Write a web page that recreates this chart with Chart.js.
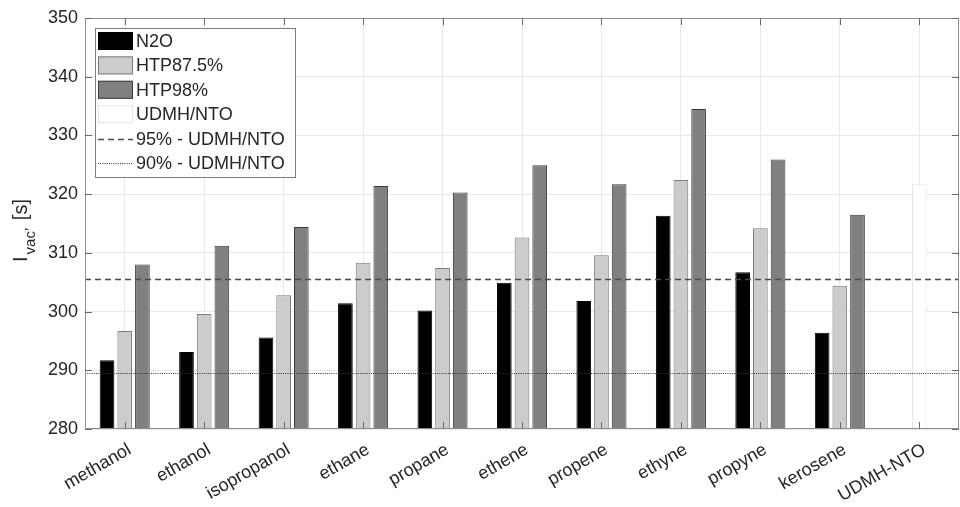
<!DOCTYPE html>
<html>
<head>
<meta charset="utf-8">
<script src="https://cdn.jsdelivr.net/npm/chart.js@4/dist/chart.umd.min.js"></script>
<style>
  html, body { margin: 0; padding: 0; background: #fff; }
  #wrap { width: 960px; height: 507px; position: relative; }
</style>
</head>
<body>
<div id="wrap"><canvas id="c"></canvas></div>
<script>
// Vacuum specific impulse by fuel and oxidiser
const categories = ['methanol', 'ethanol', 'isopropanol', 'ethane', 'propane', 'ethene',
                    'propene', 'ethyne', 'propyne', 'kerosene', 'UDMH-NTO'];
const n2oValues    = [291.7, 293.1, 295.6, 301.4, 300.2, 304.9, 301.8, 316.3, 306.7, 296.4, null];
const htp875Values = [296.7, 299.6, 302.8, 308.3, 307.4, 312.6, 309.6, 322.4, 314.2, 304.4, null];
const htp98Values  = [308.0, 311.2, 314.4, 321.4, 320.3, 324.9, 321.7, 334.5, 325.9, 316.5, null];
const udmhNtoValues = [null, null, null, null, null, null, null, null, null, null, 321.7];
const udmhNtoReference = 321.7;
const referenceFractions = [0.95, 0.90];
const referenceLabels = ['95% - UDMH/NTO', '90% - UDMH/NTO'];
const yMin = 280, yMax = 350, yStep = 10;

const FONT = '"Liberation Sans", Arial, Helvetica, sans-serif';
const TEXT = '#262626';

const barCommon = { borderWidth: 1, borderSkipped: false, skipNull: true,
                    categoryPercentage: 0.668, barPercentage: 0.83, maxBarThickness: 14.7 };

const datasets = [
  { ...barCommon, label: 'N2O', data: n2oValues, backgroundColor: '#000000', borderColor: '#000000' },
  { ...barCommon, label: 'HTP87.5%', data: htp875Values, backgroundColor: '#cccccc', borderColor: '#7a7a7a' },
  { ...barCommon, label: 'HTP98%', data: htp98Values, backgroundColor: '#808080', borderColor: '#3c3c3c' },
  { ...barCommon, label: 'UDMH/NTO', data: udmhNtoValues, backgroundColor: '#ffffff', borderColor: '#e2e2e2' }
];

// Horizontal reference levels at fractions of the UDMH/NTO impulse
const referenceLines = referenceFractions.map((f, i) => ({
  label: referenceLabels[i],
  value: udmhNtoReference * f,
  color: i === 0 ? '#4a4a4a' : '#333333',
  width: i === 0 ? 1.5 : 1,
  dash: i === 0 ? [6, 4] : [1, 1.2]
}));

const referencePlugin = {
  id: 'referenceLines',
  afterDatasetsDraw(chart) {
    const { ctx, chartArea: a, scales } = chart;
    ctx.save();
    referenceLines.forEach((r) => {
      const y = Math.round(scales.y.getPixelForValue(r.value)) + 0.5;
      ctx.strokeStyle = r.color;
      ctx.lineWidth = r.width;
      ctx.setLineDash(r.dash);
      ctx.beginPath();
      ctx.moveTo(a.left, y);
      ctx.lineTo(a.right, y);
      ctx.stroke();
    });
    ctx.restore();
  }
};

// Box outline plus inward tick marks on all four sides
const framePlugin = {
  id: 'frame',
  afterDatasetsDraw(chart) {
    const { ctx, chartArea: a, scales } = chart;
    ctx.save();
    ctx.strokeStyle = '#8f8f8f';
    ctx.lineWidth = 1;
    ctx.strokeRect(a.left + 0.5, a.top + 0.5, a.right - a.left - 1, a.bottom - a.top - 1);
    ctx.strokeStyle = '#6a6a6a';
    const len = 7;
    ctx.beginPath();
    scales.y.ticks.forEach((t) => {
      const y = Math.round(scales.y.getPixelForValue(t.value)) + 0.5;
      ctx.moveTo(a.left, y); ctx.lineTo(a.left + len, y);
      ctx.moveTo(a.right, y); ctx.lineTo(a.right - len, y);
    });
    categories.forEach((_, i) => {
      const x = Math.round(scales.x.getPixelForValue(i)) + 0.5;
      ctx.moveTo(x, a.bottom); ctx.lineTo(x, a.bottom - len);
      ctx.moveTo(x, a.top); ctx.lineTo(x, a.top + len);
    });
    ctx.stroke();
    ctx.restore();
  }
};

// Boxed legend in the upper-left corner of the plot
const boxLegendPlugin = {
  id: 'boxLegend',
  afterDraw(chart) {
    const { ctx } = chart;
    const x0 = 95, y0 = 28, w = 200, h = 149;
    const rowH = 24.4, firstRow = 41;
    const sx = 98, sw = 35;
    ctx.save();
    ctx.fillStyle = '#ffffff';
    ctx.fillRect(x0, y0, w, h);
    ctx.strokeStyle = '#7d7d7d';
    ctx.lineWidth = 1;
    ctx.strokeRect(x0 + 0.5, y0 + 0.5, w, h);
    ctx.font = '18px ' + FONT;
    ctx.textBaseline = 'middle';
    ctx.textAlign = 'left';
    let row = 0;
    chart.data.datasets.forEach((ds) => {
      const cy = firstRow + row++ * rowH;
      ctx.fillStyle = ds.backgroundColor;
      ctx.fillRect(sx, cy - 9, sw, 18);
      ctx.strokeStyle = ds.borderColor;
      ctx.lineWidth = 1;
      ctx.strokeRect(sx + 0.5, cy - 8.5, sw - 1, 17);
      ctx.fillStyle = TEXT;
      ctx.fillText(ds.label, 136, cy + 1);
    });
    referenceLines.forEach((r) => {
      const cy = firstRow + row++ * rowH;
      ctx.strokeStyle = r.color;
      ctx.lineWidth = r.width;
      ctx.setLineDash(r.dash);
      ctx.beginPath();
      ctx.moveTo(sx, Math.round(cy) + 0.5);
      ctx.lineTo(sx + sw, Math.round(cy) + 0.5);
      ctx.stroke();
      ctx.setLineDash([]);
      ctx.fillStyle = TEXT;
      ctx.fillText(r.label, 136, cy + 1);
    });
    ctx.restore();
  }
};

// Y-axis title with subscript
const yTitlePlugin = {
  id: 'yTitle',
  afterDraw(chart) {
    const { ctx, chartArea: a } = chart;
    const main = '20px ' + FONT, sub = '15px ' + FONT;
    const parts = [
      { t: 'I', f: main, dy: 0 },
      { t: 'vac\u2019', f: sub, dy: 8 },
      { t: ' [s]', f: main, dy: 0 }
    ];
    ctx.save();
    let total = 0;
    parts.forEach((p) => { ctx.font = p.f; p.w = ctx.measureText(p.t).width; total += p.w + 2; });
    ctx.translate(27, (a.top + a.bottom) / 2 + 6);
    ctx.rotate(-Math.PI / 2);
    ctx.fillStyle = TEXT;
    ctx.textBaseline = 'alphabetic';
    ctx.textAlign = 'left';
    let x = -total / 2;
    parts.forEach((p) => { ctx.font = p.f; ctx.fillText(p.t, x, p.dy); x += p.w + 2; });
    ctx.restore();
  }
};

new Chart(document.getElementById('c'), {
  type: 'bar',
  data: { labels: categories, datasets },
  plugins: [referencePlugin, framePlugin, boxLegendPlugin, yTitlePlugin],
  options: {
    responsive: true,
    maintainAspectRatio: false,
    animation: false,
    layout: { padding: { top: 18, right: 1, left: 0, bottom: 0 } },
    plugins: { legend: { display: false }, tooltip: { enabled: false } },
    scales: {
      x: {
        type: 'category',
        offset: true,
        grid: { offset: false, color: '#e8e8e8', drawTicks: false },
        border: { display: false },
        ticks: { color: TEXT, font: { family: FONT, size: 18 }, minRotation: 30, maxRotation: 30,
                 padding: 10, labelOffset: 5, autoSkip: false },
        afterFit(s) { s.height = 78; }
      },
      y: {
        type: 'linear',
        min: yMin, max: yMax,
        grid: { color: '#e8e8e8', drawTicks: false },
        border: { display: false },
        ticks: { stepSize: yStep, color: TEXT, font: { family: FONT, size: 18 }, padding: 7 },
        afterFit(s) { s.width = 85; }
      }
    }
  }
});
</script>
</body>
</html>
